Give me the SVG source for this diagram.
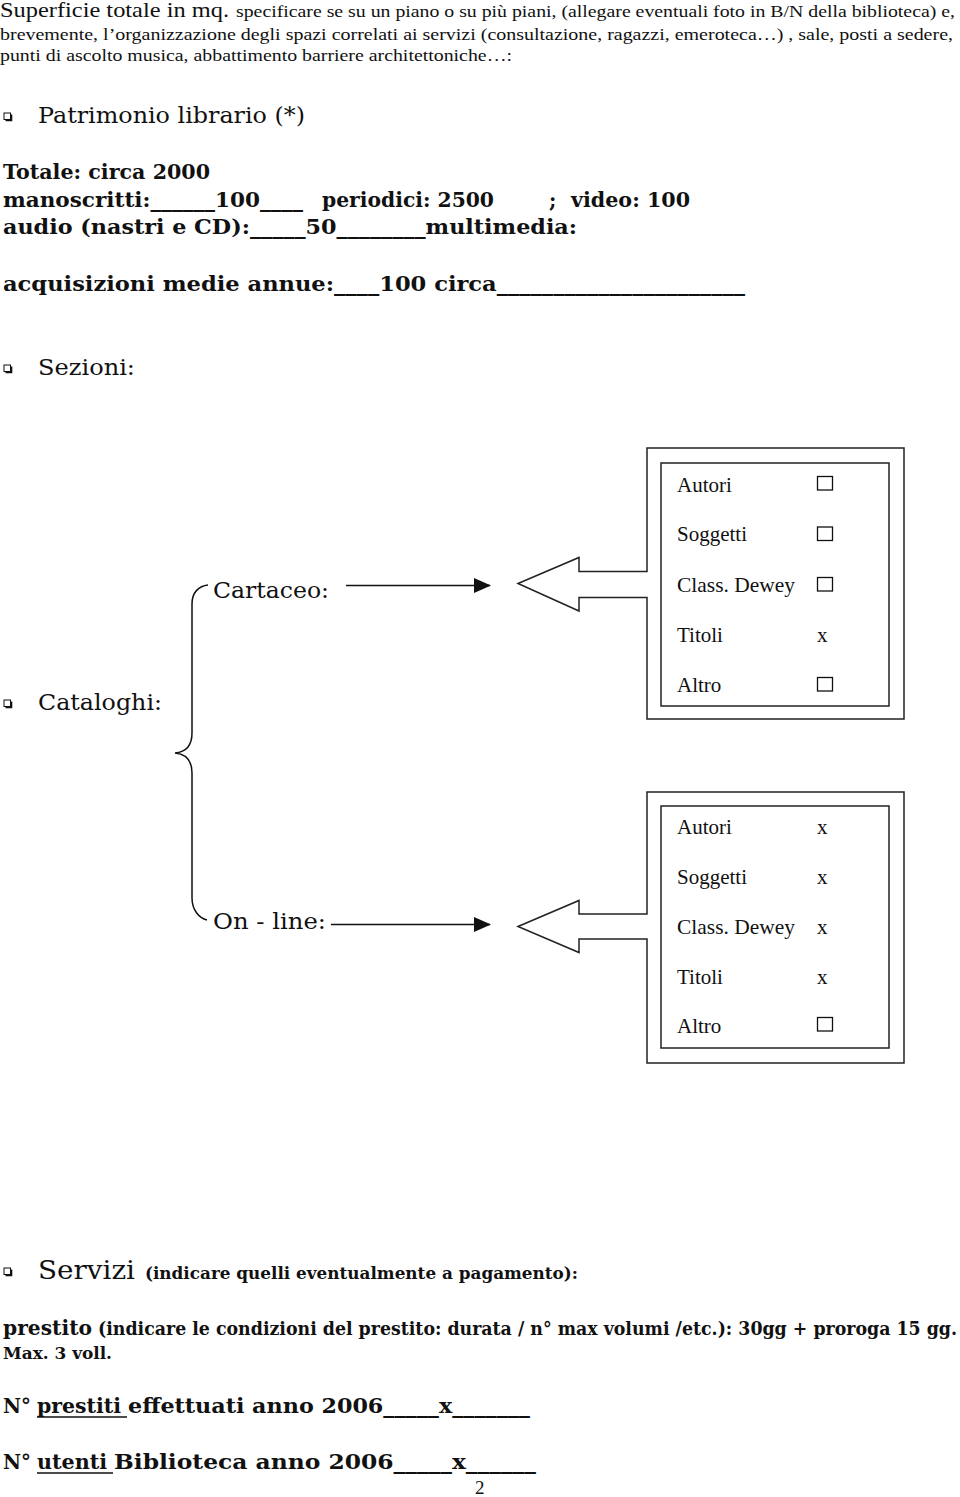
<svg xmlns="http://www.w3.org/2000/svg" width="960" height="1497" viewBox="0 0 960 1497">
<defs>
<style>
.tm{font-family:"Liberation Serif","Times New Roman",serif;fill:#111}
.bk{font-family:"DejaVu Serif",serif;fill:#111}
.bb{font-family:"DejaVu Serif",serif;font-weight:bold;fill:#111}
.bc{font-family:"DejaVu Serif Condensed","DejaVu Serif",serif;font-weight:bold;fill:#111}
.ln{fill:none;stroke:#111;stroke-width:1.5}
.cb{fill:#fff;stroke:#111;stroke-width:1.3}
.box{fill:#fff;stroke:#222;stroke-width:1.5}
</style>
<g id="bullet">
<rect x="0" y="0" width="6.5" height="6.5" fill="#fff" stroke="#111" stroke-width="1"/>
<polyline points="7.5,1.5 7.5,7.5 1.5,7.5" fill="none" stroke="#111" stroke-width="1.6"/>
</g>
<marker id="ah" markerWidth="17" markerHeight="15" refX="16" refY="7.5" orient="auto" markerUnits="userSpaceOnUse" viewBox="0 0 17 15">
<path d="M0,0 L17,7.5 L0,15 Z" fill="#111"/>
</marker>
</defs>
<rect width="960" height="1497" fill="#fff"/>

<g id="intro">
<text class="tm" x="0" y="17" font-size="21" textLength="229" lengthAdjust="spacingAndGlyphs">Superficie totale in mq.</text>
<text class="tm" x="236" y="17" font-size="17" textLength="719" lengthAdjust="spacingAndGlyphs">specificare se su un piano o su più piani, (allegare eventuali foto in B/N della biblioteca) e,</text>
<text class="tm" x="0" y="40" font-size="17" textLength="953" lengthAdjust="spacingAndGlyphs" fill="#222">brevemente, l’organizzazione degli spazi correlati ai servizi (consultazione, ragazzi, emeroteca…) , sale, posti a sedere,</text>
<text class="tm" x="0" y="61" font-size="17" textLength="512" lengthAdjust="spacingAndGlyphs" fill="#222">punti di ascolto musica, abbattimento barriere architettoniche…:</text>
</g>

<g id="patrimonio">
<use href="#bullet" x="4" y="113"/>
<text class="bk" x="38" y="123" font-size="22" textLength="267" lengthAdjust="spacingAndGlyphs">Patrimonio librario (*)</text>
<text class="bb" x="3" y="179" font-size="20" textLength="207" lengthAdjust="spacingAndGlyphs">Totale: circa 2000</text>
<text class="bb" x="3" y="207" font-size="20" textLength="300" lengthAdjust="spacingAndGlyphs">manoscritti:______100____</text>
<text class="bb" x="322" y="207" font-size="20" textLength="172" lengthAdjust="spacingAndGlyphs">periodici: 2500</text>
<text class="bb" x="549" y="207" font-size="20">;</text>
<text class="bb" x="571" y="207" font-size="20" textLength="119" lengthAdjust="spacingAndGlyphs">video: 100</text>
<text class="bb" x="3" y="234" font-size="20" textLength="574" lengthAdjust="spacingAndGlyphs">audio (nastri e CD):_____50________multimedia:</text>
<text class="bb" x="3" y="291" font-size="20" textLength="742" lengthAdjust="spacingAndGlyphs">acquisizioni medie annue:____100 circa______________________</text>
</g>

<g id="sezioni">
<use href="#bullet" x="4" y="365"/>
<text class="bk" x="38" y="375" font-size="22" textLength="97" lengthAdjust="spacingAndGlyphs">Sezioni:</text>
</g>

<g id="cataloghi">
<use href="#bullet" x="4" y="700"/>
<text class="bk" x="38" y="710" font-size="22" textLength="124" lengthAdjust="spacingAndGlyphs">Cataloghi:</text>
</g>

<g id="cartaceo">
<text class="bk" x="213" y="598" font-size="22" textLength="116" lengthAdjust="spacingAndGlyphs">Cartaceo:</text>
</g>

<g id="online">
<text class="bk" x="213" y="929" font-size="22" textLength="113" lengthAdjust="spacingAndGlyphs">On - line:</text>
</g>

<g id="connectors">
<path class="ln" d="M208,585 C199,586 192,592 192,604 L192,733 C192,745 186,752 175,753 C186,754 192,761 192,773 L192,898 C192,910 199,918 207,920"/>
<line class="ln" x1="346" y1="585.5" x2="490" y2="585.5" marker-end="url(#ah)" stroke-width="1.6"/>
<line class="ln" x1="331" y1="924.5" x2="490" y2="924.5" marker-end="url(#ah)" stroke-width="1.6"/>
</g>

<g id="box-cartaceo">
<path class="box" d="M518,583.5 L579,557.5 L579,571.5 L647,571.5 L647,448 L904,448 L904,719 L647,719 L647,597.5 L579,597.5 L579,611 Z"/>
<rect class="box" x="661" y="463" width="228" height="243"/>
<text class="tm" x="677" y="492" font-size="21">Autori</text>
<text class="tm" x="677" y="541" font-size="21">Soggetti</text>
<text class="tm" x="677" y="592" font-size="21" textLength="118" lengthAdjust="spacingAndGlyphs">Class. Dewey</text>
<text class="tm" x="677" y="642" font-size="21">Titoli</text>
<text class="tm" x="677" y="692" font-size="21">Altro</text>
<rect class="cb" x="817.5" y="476.5" width="15" height="13.5"/>
<rect class="cb" x="817.5" y="527" width="15" height="13.5"/>
<rect class="cb" x="817.5" y="577.5" width="15" height="13.5"/>
<text class="tm" x="817" y="642" font-size="21">x</text>
<rect class="cb" x="817.5" y="677.5" width="15" height="13.5"/>
</g>

<g id="box-online">
<path class="box" d="M518,926.5 L579,900.5 L579,914 L647,914 L647,792 L904,792 L904,1063 L647,1063 L647,939 L579,939 L579,952.5 Z"/>
<rect class="box" x="661" y="806" width="228" height="242"/>
<text class="tm" x="677" y="834" font-size="21">Autori</text>
<text class="tm" x="677" y="884" font-size="21">Soggetti</text>
<text class="tm" x="677" y="934" font-size="21" textLength="118" lengthAdjust="spacingAndGlyphs">Class. Dewey</text>
<text class="tm" x="677" y="984" font-size="21">Titoli</text>
<text class="tm" x="677" y="1033" font-size="21">Altro</text>
<text class="tm" x="817" y="834" font-size="21">x</text>
<text class="tm" x="817" y="884" font-size="21">x</text>
<text class="tm" x="817" y="934" font-size="21">x</text>
<text class="tm" x="817" y="984" font-size="21">x</text>
<rect class="cb" x="817.5" y="1017.5" width="15" height="13.5"/>
</g>

<g id="servizi">
<use href="#bullet" x="4" y="1268"/>
<text class="bk" x="38" y="1279" font-size="26" textLength="97" lengthAdjust="spacingAndGlyphs">Servizi</text>
<text class="bc" x="145" y="1279" font-size="17" textLength="433" lengthAdjust="spacingAndGlyphs">(indicare quelli eventualmente a pagamento):</text>
<text class="bb" x="3" y="1335" font-size="21" textLength="89" lengthAdjust="spacingAndGlyphs">prestito</text>
<text class="bc" x="98" y="1335" font-size="18" textLength="859" lengthAdjust="spacingAndGlyphs">(indicare le condizioni del prestito: durata / n° max volumi /etc.):  30gg + proroga 15 gg.</text>
<text class="bc" x="3" y="1359" font-size="17" textLength="109" lengthAdjust="spacingAndGlyphs">Max. 3 voll.</text>
</g>

<g id="prestiti">
<text class="bc" x="3" y="1413" font-size="21" textLength="28" lengthAdjust="spacingAndGlyphs">N°</text>
<text class="bc" x="37" y="1413" font-size="21" textLength="84" lengthAdjust="spacingAndGlyphs">prestiti</text>
<line x1="37" y1="1417" x2="127" y2="1417" stroke="#111" stroke-width="1.5"/>
<text class="bc" x="128" y="1413" font-size="21" textLength="402" lengthAdjust="spacingAndGlyphs">effettuati anno 2006_____x_______</text>
</g>

<g id="utenti">
<text class="bc" x="3" y="1469" font-size="21" textLength="28" lengthAdjust="spacingAndGlyphs">N°</text>
<text class="bc" x="37" y="1469" font-size="21" textLength="70" lengthAdjust="spacingAndGlyphs">utenti</text>
<line x1="37" y1="1473" x2="113" y2="1473" stroke="#111" stroke-width="1.5"/>
<text class="bc" x="114" y="1469" font-size="21" textLength="422" lengthAdjust="spacingAndGlyphs">Biblioteca  anno 2006_____x______</text>
</g>

<text class="tm" x="475" y="1494" font-size="19">2</text>
</svg>
